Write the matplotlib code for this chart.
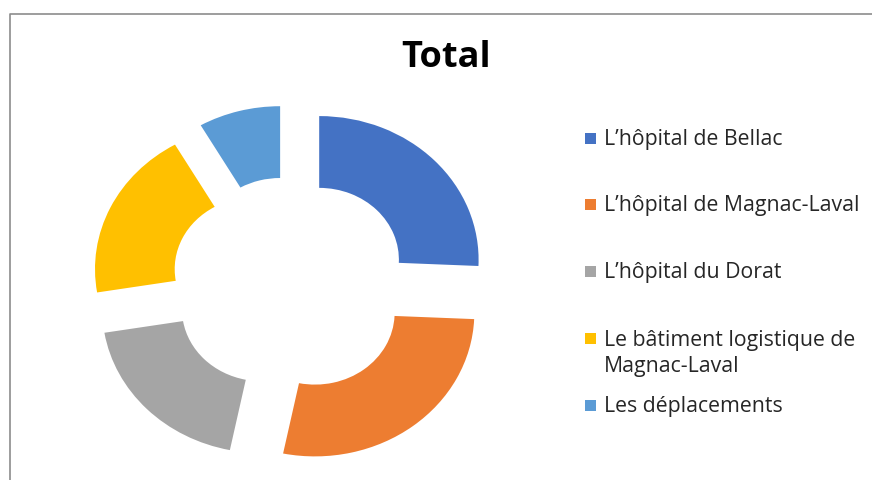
import matplotlib.pyplot as plt
from matplotlib.patches import Rectangle
from matplotlib.lines import Line2D

# ---- data ----
title = "Total"
labels = ["L’hôpital de Bellac",
          "L’hôpital de Magnac-Laval",
          "L’hôpital du Dorat",
          "Le bâtiment logistique de\nMagnac-Laval",
          "Les déplacements"]
values = [25.7, 27.5, 19.2, 19.3, 8.3]
colors = ["#4472C4", "#ED7D31", "#A5A5A5", "#FFC000", "#5B9BD5"]

FONT = ["Open Sans", "DejaVu Sans"]
W, H = 872, 480
fig = plt.figure(figsize=(W / 100, H / 100), dpi=100)

# donut geometry in pixels (reference is slightly stretched horizontally)
cx, cy = 290.4, 284.5
rx, ry = 159.4, 143.6
xl, yl = 1.5, 1.35
ax = fig.add_axes([(cx - xl * rx) / W, (H - cy - yl * ry) / H,
                   2 * xl * rx / W, 2 * yl * ry / H])
ax.pie(values, colors=colors, startangle=90, counterclock=False,
       explode=[0.25] * len(values), radius=1,
       wedgeprops=dict(width=0.5, edgecolor="none"))
ax.set_aspect("auto")
ax.set_xlim(-xl, xl)
ax.set_ylim(-yl, yl)

# title
fig.text(446.5 / W, 1 - 67 / H, title, ha="center", va="baseline",
         fontsize=26, fontweight="bold", family=FONT, color="black")

# legend (manual, to match Excel's spacing)
first_baselines = [145, 211, 278, 345, 412]
line_gap = 27
for lab, col, yb in zip(labels, colors, first_baselines):
    nlines = lab.count("\n") + 1
    fig.patches.append(Rectangle((585 / W, 1 - (yb - 1) / H), 11 / W, 11 / H,
                                 transform=fig.transFigure, facecolor=col,
                                 edgecolor="none"))
    fig.text(604 / W, 1 - (yb + (nlines - 1) * line_gap) / H, lab,
             ha="left", va="baseline", fontsize=15.3, family=FONT,
             color="#262626", linespacing=1.3)

# chart-area border (left and top only visible)
bc = "#8c8c8c"
fig.add_artist(Line2D([10 / W, 10 / W, 1], [0, 1 - 13.5 / H, 1 - 13.5 / H],
                      transform=fig.transFigure, color=bc, lw=1.2))

fig.savefig("out.png", dpi=100)
